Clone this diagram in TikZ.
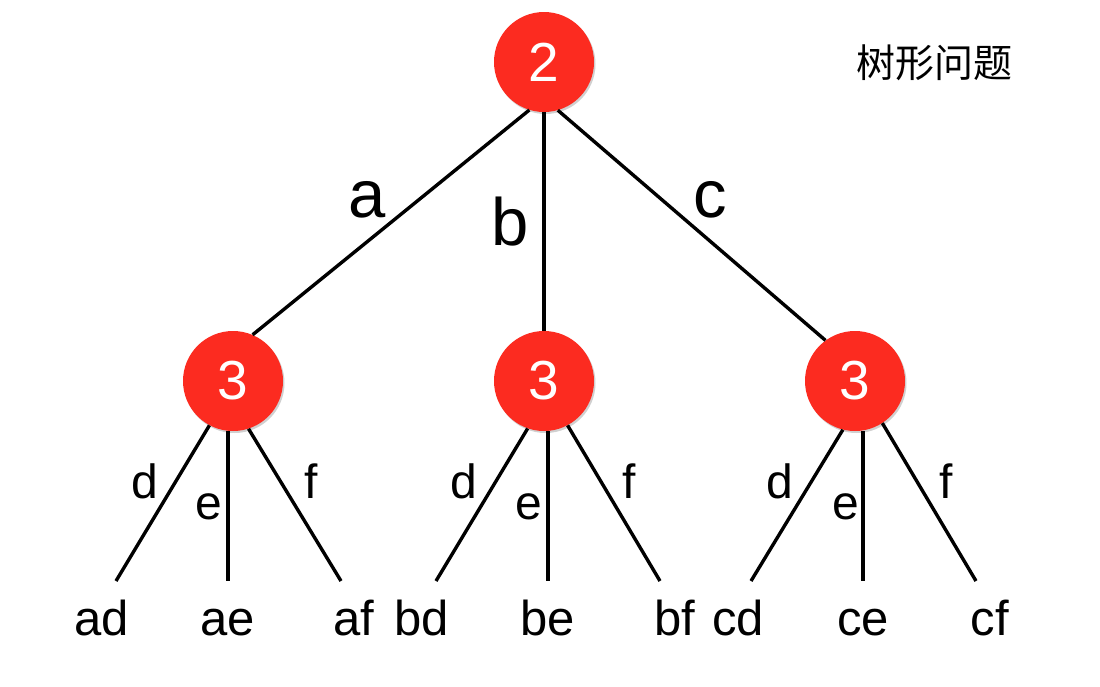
\documentclass[tikz,border=0pt]{standalone}
\usepackage{fontspec}
\setmainfont{Liberation Sans}
\newfontfamily\cjk{Noto Sans CJK SC}
\usetikzlibrary{shadows}
\definecolor{nodered}{HTML}{FC2B20}
\tikzset{
  num/.style={circle, fill=nodered, minimum size=100pt, inner sep=0pt, text=white,
    font=\fontsize{55}{55}\selectfont, drop shadow={shadow xshift=1.5pt, shadow yshift=-2pt, opacity=0.3, fill=black!60}},
  edge/.style={line width=3.4pt},
  big/.style={font=\fontsize{67}{67}\selectfont, inner sep=0pt, anchor=base},
  small/.style={font=\fontsize{48}{48}\selectfont, inner sep=0pt, anchor=base},
  leaf/.style={font=\fontsize{49}{49}\selectfont, inner sep=0pt, anchor=base},
}
\begin{document}
\begin{tikzpicture}[x=1pt,y=-1pt]
\useasboundingbox[fill=white] (0,0) rectangle (1100,686);
% nodes
\node[num] (r) at (544,62) {2};
\node[num] (A) at (233,381) {3};
\node[num] (B) at (544,381) {3};
\node[num] (C) at (855,381) {3};
% edges top
\draw[edge] (r.253) -- (A.67);
\draw[edge] (r.south) -- (B.north);
\draw[edge] (r.286) -- (C.126);
\node[big] (la) at (367,217) {a};
\node[big] (lb) at (510,245) {b};
\node[big] (lc) at (710,217) {c};
% leaf ends
\coordinate (ead) at (116,581);
\coordinate (eae) at (228,581);
\coordinate (eaf) at (341,581);
\coordinate (ebd) at (436,581);
\coordinate (ebe) at (548,581);
\coordinate (ebf) at (660,581);
\coordinate (ecd) at (751,581);
\coordinate (ece) at (863,581);
\coordinate (ecf) at (976,581);
\draw[edge] (A.242) -- (ead);
\draw[edge] (eae |- A.south) -- (eae);
\draw[edge] (A.288) -- (eaf);
\draw[edge] (B.251) -- (ebd);
\draw[edge] (ebe |- B.south) -- (ebe);
\draw[edge] (B.298) -- (ebf);
\draw[edge] (C.256) -- (ecd);
\draw[edge] (ece |- C.south) -- (ece);
\draw[edge] (C.303) -- (ecf);
% small labels
\node[small] (ad1) at (145,498) {d};
\node[small] (ae1) at (209,519) {e};
\node[small] (af1) at (311,498) {f};
\node[small] (bd1) at (464,498) {d};
\node[small] (be1) at (529,519) {e};
\node[small] (bf1) at (629,498) {f};
\node[small] (cd1) at (780,498) {d};
\node[small] (ce1) at (846,519) {e};
\node[small] (cf1) at (946,498) {f};
% leaf labels
\node[leaf] (ad) at (102,635) {ad};
\node[leaf] (ae) at (228,635) {ae};
\node[leaf] (af) at (354,635) {af};
\node[leaf] (bd) at (422,635) {bd};
\node[leaf] (be) at (548,635) {be};
\node[leaf] (bf) at (675,635) {bf};
\node[leaf] (cd) at (738,635) {cd};
\node[leaf] (ce) at (863,635) {ce};
\node[leaf] (cf) at (990,635) {cf};
% title
\node[font=\cjk\fontsize{39}{39}\selectfont, inner sep=0pt] (t) at (934,63) {树形问题};
\end{tikzpicture}
\end{document}
